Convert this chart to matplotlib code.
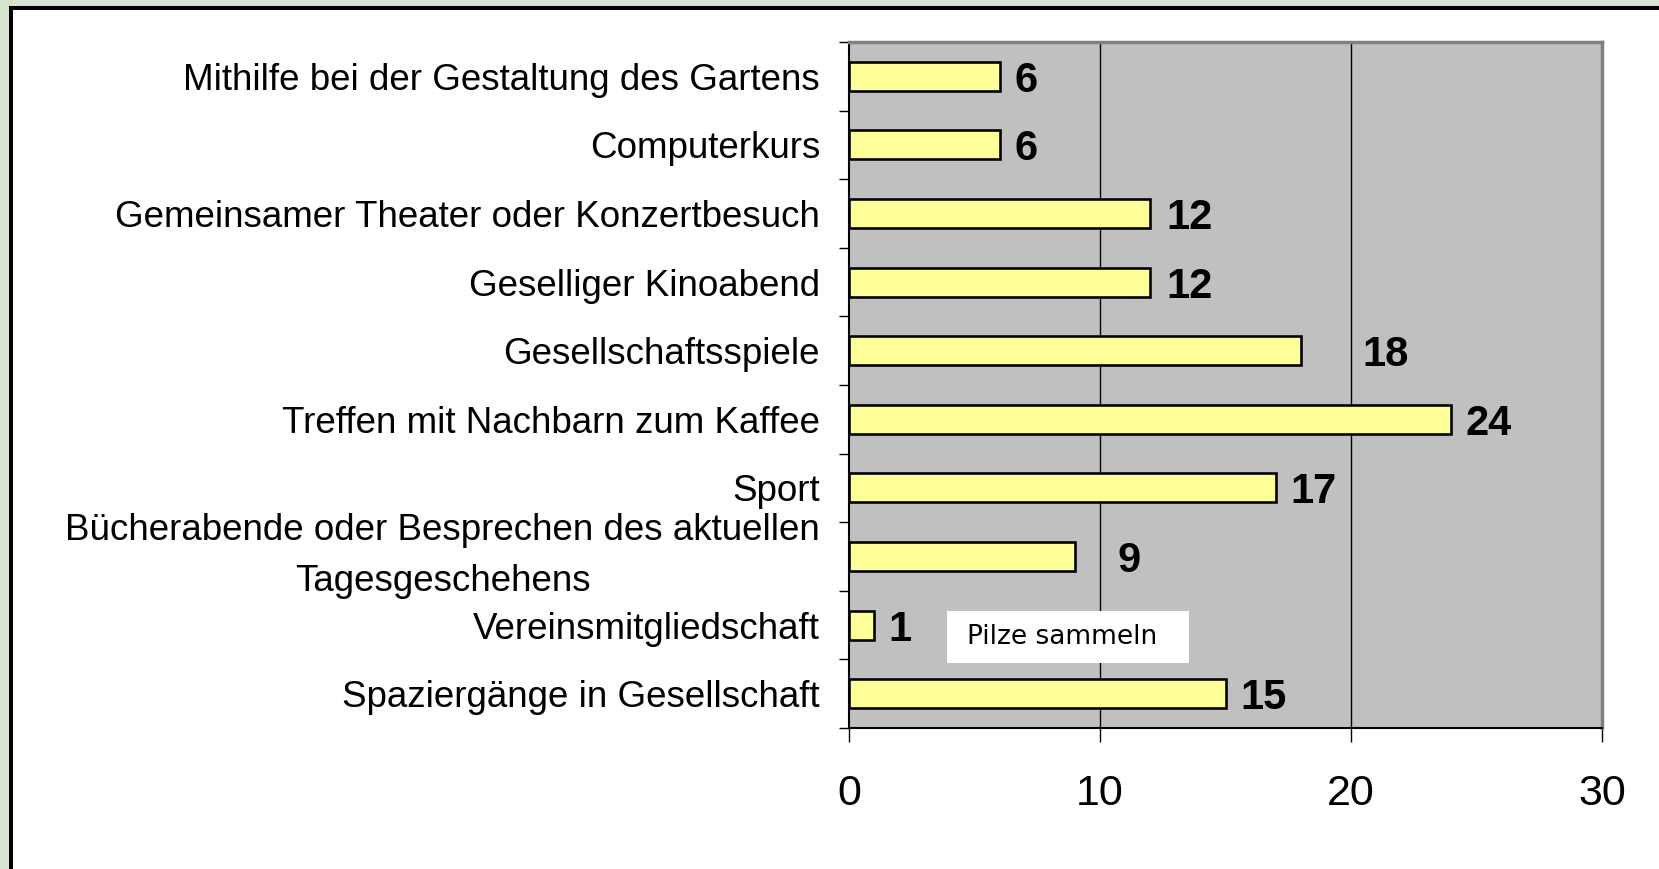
import matplotlib
matplotlib.use("Agg")
import matplotlib.pyplot as plt
from matplotlib.patches import Rectangle
from matplotlib.transforms import ScaledTranslation
import numpy as np

categories = [
    "Spaziergänge in Gesellschaft",
    "Vereinsmitgliedschaft",
    "Bücherabende oder Besprechen des aktuellen\nTagesgeschehens",
    "Sport",
    "Treffen mit Nachbarn zum Kaffee",
    "Gesellschaftsspiele",
    "Geselliger Kinoabend",
    "Gemeinsamer Theater oder Konzertbesuch",
    "Computerkurs",
    "Mithilfe bei der Gestaltung des Gartens",
]
values = [15, 1, 9, 17, 24, 18, 12, 12, 6, 6]
label_gap = [0.6, 0.55, 1.7, 0.6, 0.55, 2.45, 0.65, 0.65, 0.6, 0.6]
xticks = [0, 10, 20, 30]
note_text = "Pilze sammeln"

W, H = 1659, 869
fig = plt.figure(figsize=(W / 100, H / 100), dpi=100)
fig.patch.set_facecolor("#d6e4d0")
fig.patches.append(Rectangle((11 / W, -0.1), 1.2, 1 - 8 / H + 0.1,
                             transform=fig.transFigure, facecolor="white",
                             edgecolor="black", linewidth=4 * 0.72, zorder=-1))

ax = fig.add_axes([849 / W, 1 - 728 / H, (1602 - 849) / W, (728 - 42) / H])
ax.set_facecolor("#c0c0c0")

y = np.arange(len(categories))
ax.barh(y, values, height=0.42, color="#ffff99", edgecolor="black",
        linewidth=2.6 * 0.72, zorder=3)

for yi, v, g in zip(y, values, label_gap):
    ax.text(v + g, yi, str(v), ha="left", va="center_baseline", fontsize=30,
            fontweight="bold", family="Liberation Sans", zorder=4)

ax.set_xlim(0, 30)
ax.set_ylim(-0.5, len(categories) - 0.5)
ax.set_xticks(xticks)
ax.set_xticklabels([str(t) for t in xticks], fontsize=31, family="Liberation Sans")
ax.tick_params(axis="x", direction="out", length=14 * 0.72, width=1, pad=23,
               color="black")
ax.set_yticks(y)
ax.set_yticklabels(categories, fontsize=26.5, family="Liberation Sans",
                   linespacing=1.62)
ax.tick_params(axis="y", which="major", length=0, pad=29 * 0.72)
ax.set_yticks(np.arange(-0.5, len(categories), 1), minor=True)
ax.tick_params(axis="y", which="minor", direction="out", length=10 * 0.72,
               width=1, color="black")
for lbl in ax.get_yticklabels():
    lbl.set_multialignment("center")
    if "\n" in lbl.get_text():
        lbl.set_transform(lbl.get_transform() +
                          ScaledTranslation(0, 13 / 100, fig.dpi_scale_trans))

for xv in xticks[1:-1]:
    ax.axvline(xv, color="black", linewidth=1, zorder=1)

ax.spines["left"].set_color("black")
ax.spines["left"].set_linewidth(1.5)
ax.spines["bottom"].set_color("black")
ax.spines["bottom"].set_linewidth(1.5)
ax.spines["top"].set_color("#808080")
ax.spines["top"].set_linewidth(2.5)
ax.spines["right"].set_color("#808080")
ax.spines["right"].set_linewidth(2.5)

fig.patches.append(Rectangle((947 / W, 1 - 663 / H), (1189 - 947) / W, (663 - 611) / H,
                             transform=fig.transFigure, facecolor="white",
                             edgecolor="none", zorder=5))
fig.text(967 / W, 1 - 637 / H, note_text, ha="left", va="center",
         fontsize=19, family="DejaVu Sans", zorder=6)

fig.savefig("out.png", dpi=100)
